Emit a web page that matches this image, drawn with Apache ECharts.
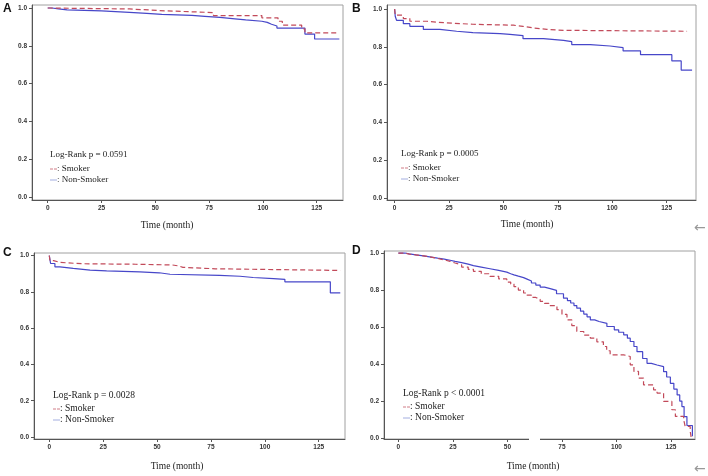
<!DOCTYPE html>
<html>
<head>
<meta charset="utf-8">
<script src="https://cdn.jsdelivr.net/npm/echarts@6/dist/echarts.min.js"></script>
<style>
  html, body { margin: 0; padding: 0; background: #fff; }
  #root { width: 708px; height: 476px; }
</style>
</head>
<body>
<div id="root"></div>
<script>
// tick values shared by all four panels
var xTicks = [0, 25, 50, 75, 100, 125];
var yTicks = [0, 0.2, 0.4, 0.6, 0.8, 1.0];

// [month, survival]
var smokerA = [[0,1],[1,0.995],[38,0.985],[55,0.976],[77,0.96],[99.5,0.948],[107,0.93],[109,0.91],[118,0.89],[119.5,0.868],[135,0.868]];
var nonSmokerA = [[0,1],[2,0.995],[5,0.99],[9,0.985],[25,0.977],[38,0.972],[46,0.966],[53,0.961],[67,0.956],[73,0.95],[80,0.943],[87,0.937],[92,0.93],[99.5,0.924],[102,0.914],[104,0.905],[106.5,0.894],[119.5,0.862],[124,0.836],[135.5,0.836]];

var smokerB = [[0,1],[0.3,0.967],[4,0.949],[7,0.935],[14.7,0.926],[24,0.919],[36,0.914],[54.6,0.908],[59,0.899],[64,0.892],[70,0.887],[77.6,0.882],[134.4,0.882]];
var nonSmokerB = [[0,1],[0.3,0.96],[0.9,0.94],[4,0.922],[7,0.908],[13.2,0.892],[20.8,0.882],[28.5,0.875],[36,0.869],[48.5,0.866],[53,0.859],[59,0.843],[68.4,0.834],[77.6,0.827],[81.4,0.811],[89.9,0.804],[99,0.795],[105,0.778],[113,0.758],[127.4,0.725],[131.7,0.676],[136.7,0.676]];

var smokerC = [[0,1],[0.3,0.972],[2,0.962],[5,0.955],[15,0.952],[40,0.948],[57,0.943],[60,0.935],[62,0.927],[77,0.918],[135,0.918]];
var nonSmokerC = [[0,1],[0.6,0.956],[2.6,0.938],[4.9,0.929],[11.1,0.92],[18.9,0.915],[26.6,0.91],[42,0.905],[51,0.897],[56,0.891],[79,0.886],[88.5,0.879],[94.6,0.873],[104,0.869],[109.3,0.855],[130.4,0.794],[135,0.794]];

var smokerD = [[0,1],[3,0.994],[5,0.99],[8,0.985],[11.5,0.978],[15,0.971],[18,0.963],[21,0.955],[23.7,0.946],[26,0.936],[29,0.924],[32,0.912],[34.4,0.901],[38,0.888],[42,0.874],[46,0.86],[49.7,0.843],[51.5,0.832],[53,0.818],[55,0.8],[57.4,0.784],[59,0.772],[61,0.76],[63,0.75],[65,0.739],[67,0.728],[69,0.716],[72.7,0.694],[75,0.668],[77.3,0.639],[79.5,0.608],[81.8,0.576],[85,0.556],[88,0.54],[91,0.52],[94,0.495],[95.5,0.472],[97.1,0.45],[103.3,0.441],[106.3,0.396],[108,0.36],[110.1,0.324],[112.4,0.288],[117,0.261],[118.6,0.243],[121.6,0.198],[125.4,0.153],[127,0.117],[130.8,0.099],[131.5,0.063],[133.8,0.036],[134.3,0]];
var nonSmokerD = [[0,1],[3,0.995],[5,0.99],[8,0.985],[11.5,0.978],[15,0.972],[18,0.967],[21,0.961],[23.7,0.955],[26,0.948],[29,0.94],[32,0.932],[34.4,0.924],[38,0.915],[42,0.906],[46,0.897],[49.7,0.888],[51.5,0.882],[53,0.875],[55,0.867],[57.4,0.859],[59,0.849],[61,0.838],[63,0.827],[65,0.816],[67,0.808],[69.6,0.798],[72.5,0.78],[75.7,0.756],[77.5,0.743],[79,0.73],[80.5,0.716],[81.8,0.702],[83.5,0.686],[85,0.67],[86.5,0.655],[88,0.639],[90,0.63],[92,0.62],[95.6,0.603],[99,0.585],[101,0.572],[103.3,0.558],[105,0.54],[106.3,0.522],[108,0.495],[109.4,0.467],[112,0.43],[114,0.404],[116,0.395],[118.6,0.386],[121.6,0.359],[123,0.33],[124.7,0.296],[126.3,0.265],[127.8,0.233],[129,0.2],[130,0.17],[131,0.116],[132.3,0.068],[134.8,0.01]];

var panelNames = ['A', 'B', 'C', 'D'];
var pTexts = ['Log-Rank p = 0.0591', 'Log-Rank p = 0.0005', 'Log-Rank p = 0.0028', 'Log-Rank p < 0.0001'];
var groupNames = [': Smoker', ': Non-Smoker'];
var xTitle = 'Time (month)';

var smokers = [smokerA, smokerB, smokerC, smokerD];
var nonSmokers = [nonSmokerA, nonSmokerB, nonSmokerC, nonSmokerD];

// layout of each panel (pixels) and its axis extents
var panels = [
	{ left: 32, top: 5, width: 311, height: 195, xMin: -7.3, xMax: 137.2, yMin: -0.016, yMax: 1.016, letter: [3, 3], legend: [50, 155], title: 167, titleY: 225, fs: 9 },
	{ left: 387, top: 5, width: 309, height: 195, xMin: -3.5, xMax: 138.5, yMin: -0.011, yMax: 1.021, letter: [352, 3], legend: [401, 154], title: 527, titleY: 224, fs: 9 },
	{ left: 34, top: 253, width: 311, height: 186, xMin: -7.1, xMax: 137.2, yMin: -0.011, yMax: 1.014, letter: [3, 247], legend: [53, 395], title: 177, titleY: 466, fs: 9.5 },
	{ left: 384, top: 251, width: 311, height: 188, xMin: -6.6, xMax: 136.0, yMin: -0.005, yMax: 1.011, letter: [352, 245], legend: [403, 393], title: 533, titleY: 466, fs: 9.5 }
];

var RED = '#c24a5a';
var BLUE = '#4747c9';
var serif = '"Liberation Serif", "Times New Roman", serif';
var sans = '"Liberation Sans", Arial, sans-serif';

var chart = echarts.init(document.getElementById('root'));

var grid = [], xAxis = [], yAxis = [], series = [], graphic = [];

panels.forEach(function (p, i) {
	grid.push({
		left: p.left, top: p.top, width: p.width, height: p.height,
		show: true, borderColor: '#a0a0a0', borderWidth: 1, backgroundColor: '#fff'
	});

	xAxis.push({
		type: 'value', gridIndex: i, min: p.xMin, max: p.xMax,
		axisLine: { show: true, onZero: false, lineStyle: { color: '#555', width: 1 } },
		axisTick: { show: true, length: 3, customValues: xTicks, lineStyle: { color: '#555' } },
		axisLabel: {
			customValues: xTicks, margin: 5, fontSize: 6.5, fontWeight: 'bold',
			fontFamily: sans, color: '#333'
		},
		splitLine: { show: false }
	});

	yAxis.push({
		type: 'value', gridIndex: i, min: p.yMin, max: p.yMax,
		axisLine: { show: true, onZero: false, lineStyle: { color: '#555', width: 1 } },
		axisTick: { show: true, length: 3, customValues: yTicks, lineStyle: { color: '#555' } },
		axisLabel: {
			customValues: yTicks, margin: 5, fontSize: 6.5, fontWeight: 'bold',
			fontFamily: sans, color: '#333',
			formatter: function (v) { return v.toFixed(1); }
		},
		splitLine: { show: false }
	});

	series.push({
		name: 'Non-Smoker ' + panelNames[i], type: 'line', step: 'end',
		xAxisIndex: i, yAxisIndex: i, data: nonSmokers[i],
		showSymbol: false, silent: true,
		lineStyle: { color: BLUE, width: 1.2 }
	});
	series.push({
		name: 'Smoker ' + panelNames[i], type: 'line', step: 'end',
		xAxisIndex: i, yAxisIndex: i, data: smokers[i],
		showSymbol: false, silent: true,
		lineStyle: { color: RED, width: 1.2, type: [5, 3] }
	});

	// panel letter
	graphic.push({
		type: 'text', left: p.letter[0], top: p.letter[1],
		style: { text: panelNames[i], font: 'bold 12px ' + sans, fill: '#111' }
	});

	// axis title
	graphic.push({
		type: 'text', x: p.title, y: p.titleY,
		style: { text: xTitle, font: '9.5px ' + serif, fill: '#222', align: 'center', verticalAlign: 'middle' }
	});

	// log-rank text and the little key
	var lx = p.legend[0], ly = p.legend[1];
	graphic.push({
		type: 'text', x: lx, y: ly,
		style: { text: pTexts[i], font: p.fs + 'px ' + serif, fill: '#222', verticalAlign: 'middle' }
	});
	graphic.push({
		type: 'line', shape: { x1: lx, y1: ly + 14, x2: lx + 7, y2: ly + 14 },
		style: { stroke: '#d07c86', lineWidth: 1, lineDash: [3, 1] }
	});
	graphic.push({
		type: 'text', x: lx + 7, y: ly + 13.5,
		style: { text: groupNames[0], font: p.fs + 'px ' + serif, fill: '#222', verticalAlign: 'middle' }
	});
	graphic.push({
		type: 'line', shape: { x1: lx, y1: ly + 25, x2: lx + 7, y2: ly + 25 },
		style: { stroke: '#a3aee0', lineWidth: 1 }
	});
	graphic.push({
		type: 'text', x: lx + 7, y: ly + 24.5,
		style: { text: groupNames[1], font: p.fs + 'px ' + serif, fill: '#222', verticalAlign: 'middle' }
	});
});

// small gap in the bottom axis of panel D, as in the scan
graphic.push({
	type: 'rect', shape: { x: 529, y: 434, width: 11, height: 9 },
	style: { fill: '#fff' }, z: 100
});

// the grey arrows at the right edge
graphic.push({
	type: 'text', x: 694, y: 228,
	style: { text: '\u2190', font: '14px "DejaVu Sans", sans-serif', fill: '#999', verticalAlign: 'middle' }
});
graphic.push({
	type: 'text', x: 694, y: 469,
	style: { text: '\u2190', font: '14px "DejaVu Sans", sans-serif', fill: '#999', verticalAlign: 'middle' }
});

chart.setOption({
	animation: false,
	backgroundColor: '#fff',
	grid: grid,
	xAxis: xAxis,
	yAxis: yAxis,
	series: series,
	graphic: graphic
});
</script>
</body>
</html>
